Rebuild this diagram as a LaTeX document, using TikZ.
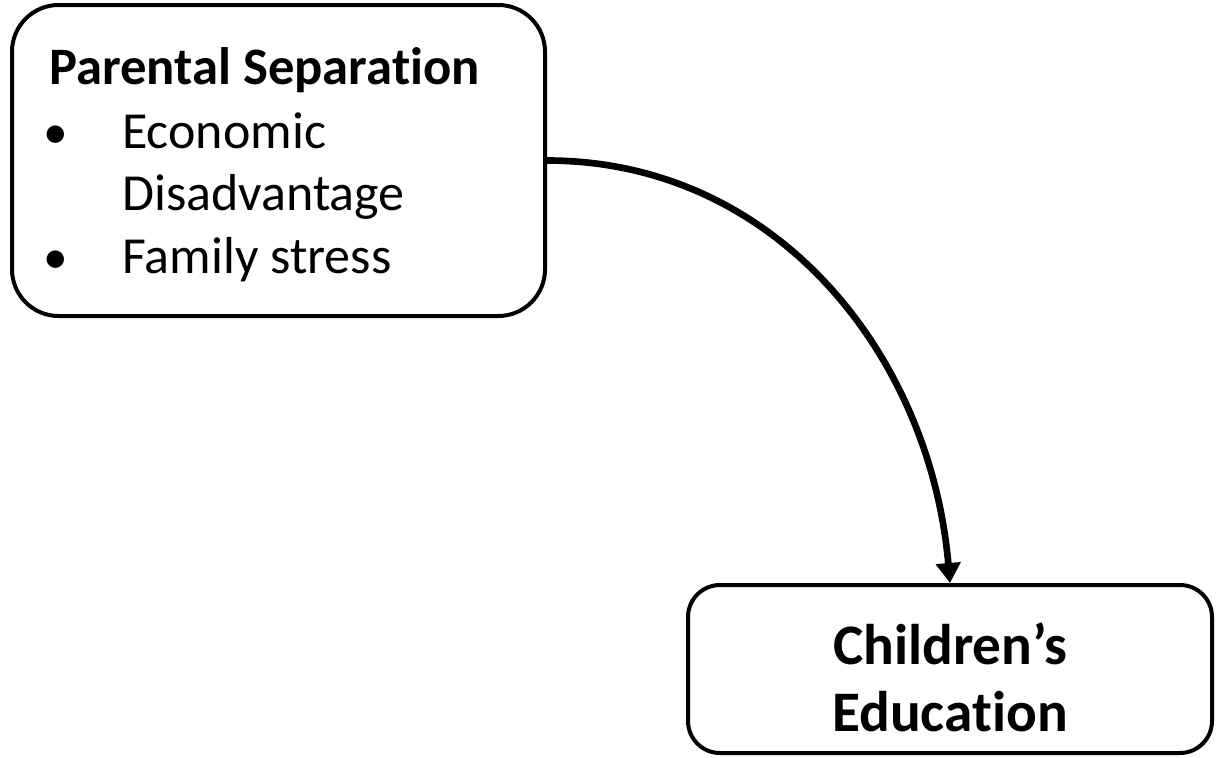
\documentclass[tikz,border=0pt]{standalone}
\usepackage{fontspec}
\setmainfont{Carlito}[Ligatures=NoCommon]
\usetikzlibrary{arrows.meta}
\begin{document}
\begin{tikzpicture}[x=0.75pt,y=-0.75pt,
  box/.style={draw, line width=3pt, rounded corners=#1, inner sep=0pt},
  txt/.style={inner sep=0pt, font=\fontsize{39}{47}\selectfont},
  dot/.style={inner sep=0pt, anchor=base west, font=\fontsize{37}{44}\selectfont},
  head/.style={inner sep=0pt, font=\fontsize{39.5}{47}\selectfont\bfseries},
  big/.style={inner sep=0pt, anchor=base, font=\fontsize{43}{50}\selectfont\bfseries},
  link/.style={line width=5pt, -{Triangle[width=18pt,length=15pt]}}]
\useasboundingbox (0,0) rectangle (1217,757);
% boxes
\node[box=35pt, minimum width=399.75pt, minimum height=233.25pt] (sep) at (278.5,160.5) {};
\node[box=24pt, minimum width=393pt, minimum height=126pt] (edu) at (950,669) {};
% text of the first box
\node[head, anchor=base west] (title) at (49,84) {Parental Separation};
\node[dot] (b1) at (43,148) {•};
\node[txt, anchor=base west] (econ) at (122,148) {Economic};
\node[txt, anchor=base west] (dis) at (122,210) {Disadvantage};
\node[dot] (b2) at (43,273) {•};
\node[txt, anchor=base west] (fam) at (122,273) {Family stress};
% text of the second box
\node[big] (ch) at (950,664) {Children’s};
\node[big] (ed) at (950,731) {Education};
% connector
\draw[link] (sep.east) to[out=0,in=95] (edu.north);
\end{tikzpicture}
\end{document}
